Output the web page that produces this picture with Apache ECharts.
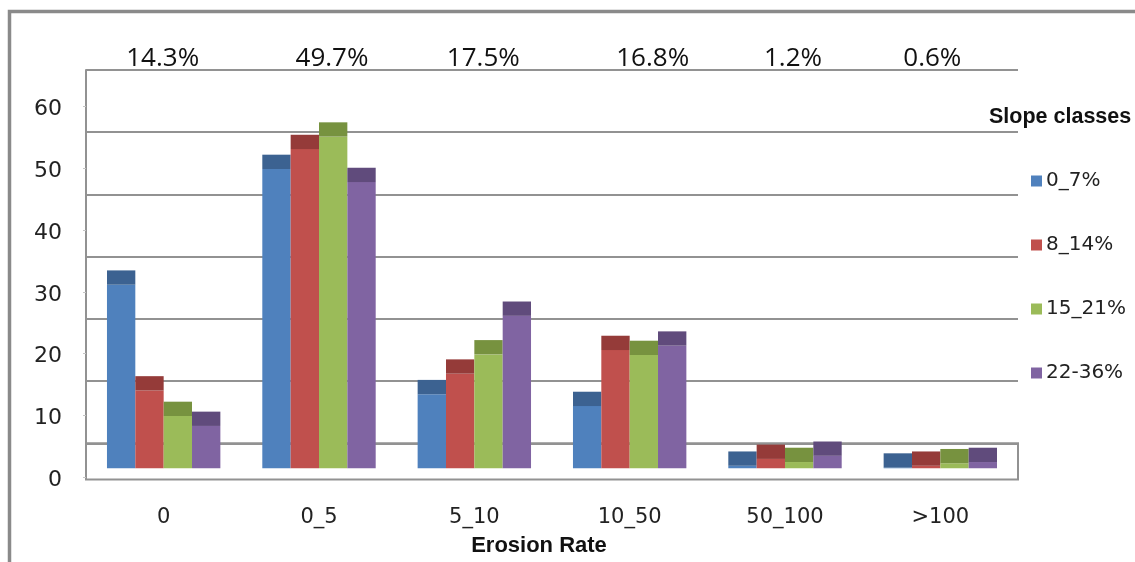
<!DOCTYPE html>
<html>
<head>
<meta charset="utf-8">
<script src="https://cdn.jsdelivr.net/npm/echarts@6/dist/echarts.min.js"></script>
<style>
  html, body { margin: 0; padding: 0; background: #ffffff; }
  #chart { width: 1135px; height: 562px; }
</style>
</head>
<body>
<div id="chart"></div>
<script>
// Erosion rate classes (x axis) and their share of the total area
const categories = ['0', '0_5', '5_10', '10_50', '50_100', '>100'];
const classShare = ['14.3%', '49.7%', '17.5%', '16.8%', '1.2%', '0.6%'];

// Percentage of each slope class falling in every erosion rate class
const slopeNames = ['0_7%', '8_14%', '15_21%', '22-36%'];
const slope0to7   = [29.5, 48.1, 11.9, 10.0, 0.4, 0.1];
const slope8to14  = [12.5, 51.3, 15.2, 19.0, 1.5, 0.4];
const slope15to21 = [8.4, 53.3, 18.3, 18.2, 1.0, 0.8];
const slope22to36 = [6.8, 46.0, 24.5, 19.7, 2.0, 1.0];

// Value axis ticks
const yTicks = { min: 0, max: 60, interval: 10 };

// ---- styling ----
const faceColors = ['#4F81BD', '#C0504D', '#9BBB59', '#8064A2'];
const capColors  = ['#3C6291', '#953B39', '#77923F', '#604B7C'];
const gridGray = '#929292';
// oblique depth: floor is 36.7px deep, columns sit in its middle band
const FLOOR_DEPTH = 36.7;
const BACK_DY = FLOOR_DEPTH * 0.29;
const FRONT_DY = FLOOR_DEPTH * 0.68;
const GROUP_RATIO = 0.73;
// small horizontal nudges of the share labels above the columns
const shareNudge = [-1, 13, 9, 23, 8, -8];

const seriesValues = [slope0to7, slope8to14, slope15to21, slope22to36];

function columnRenderer(si) {
  return function (params, api) {
    const cat = api.value(0);
    const v = api.value(1);
    const top = api.coord([cat, v]);
    const base = api.coord([cat, 0]);
    const band = api.size([1, 0])[0];
    const groupW = band * GROUP_RATIO;
    const bw = groupW / seriesValues.length;
    const x = top[0] - groupW / 2 + si * bw;
    const faceTop = top[1] + FRONT_DY;
    const faceBottom = base[1] + FRONT_DY;
    const capTop = top[1] + BACK_DY;
    return {
      type: 'group',
      children: [
        { type: 'rect', shape: { x: x, y: faceTop, width: bw, height: faceBottom - faceTop },
          style: { fill: faceColors[si] } },
        { type: 'rect', shape: { x: x, y: capTop, width: bw, height: FRONT_DY - BACK_DY },
          style: { fill: capColors[si] } }
      ]
    };
  };
}

const shareRich = {};
shareNudge.forEach(function (dx, i) {
  shareRich['p' + i] = {
    fontFamily: 'Open Sans', fontSize: 26, color: '#111',
    padding: dx >= 0 ? [0, 0, 0, 2 * dx] : [0, -2 * dx, 0, 0]
  };
});

const chart = echarts.init(document.getElementById('chart'), null, { renderer: 'canvas' });

const option = {
  backgroundColor: '#ffffff',
  animation: false,
  title: {
    text: 'Slope classes',
    left: 984, top: 101,
    textStyle: { fontFamily: 'Liberation Sans', fontWeight: 'bold', fontSize: 21.5, color: '#111' }
  },
  legend: {
    orient: 'vertical',
    left: 1026, top: 166,
    itemWidth: 11, itemHeight: 11, itemGap: 44,
    icon: 'rect',
    data: slopeNames,
    textStyle: { fontFamily: 'DejaVu Sans', fontSize: 20, color: '#222', lineHeight: 20, padding: [0, 0, 0, -1] }
  },
  grid: [
    // back wall
    { left: 86, right: 117, top: 70, bottom: 118.7 },
    // front plane (carries the value labels and category labels)
    { left: 86, right: 117, top: 106.7, bottom: 82 },
    // floor
    { left: 86, right: 117, top: 443.3, bottom: 82.5, show: true,
      borderColor: gridGray, borderWidth: 2, backgroundColor: 'transparent' }
  ],
  xAxis: [
    { type: 'category', gridIndex: 0, data: categories, position: 'bottom',
      axisLine: { show: false }, axisTick: { show: false }, axisLabel: { show: false } },
    { type: 'category', gridIndex: 0, data: classShare, position: 'top',
      axisLine: { show: false }, axisTick: { show: false },
      axisLabel: { margin: -2, formatter: function (val, i) { return '{p' + i + '|' + val + '}'; }, rich: shareRich } },
    { type: 'category', gridIndex: 1, data: categories, position: 'bottom',
      axisLine: { show: false }, axisTick: { show: false },
      axisLabel: { margin: 30, fontFamily: 'DejaVu Sans', fontSize: 21, color: '#222' },
      name: 'Erosion Rate', nameLocation: 'middle', nameGap: 58,
      nameTextStyle: { fontFamily: 'Liberation Sans', fontWeight: 'bold', fontSize: 22, color: '#111',
                       padding: [0, 26, 0, 0] } },
    { type: 'category', gridIndex: 2, data: categories, show: false }
  ],
  yAxis: [
    { type: 'value', gridIndex: 0, min: yTicks.min, max: yTicks.max, interval: yTicks.interval,
      axisLine: { show: true, lineStyle: { color: gridGray, width: 2 } },
      axisTick: { show: false }, axisLabel: { show: false },
      splitLine: { show: true, lineStyle: { color: gridGray, width: 2 } } },
    { type: 'value', gridIndex: 1, min: yTicks.min, max: yTicks.max, interval: yTicks.interval,
      axisLine: { show: true, lineStyle: { color: gridGray, width: 2 } },
      axisTick: { show: true, length: 3, lineStyle: { color: '#c4c4c4', width: 1 } },
      axisLabel: { margin: 24, formatter: '{t|{value}}',
                   rich: { t: { fontFamily: 'DejaVu Sans', fontSize: 22, color: '#222', padding: [6, 0, 0, 0] } } },
      splitLine: { show: false } },
    { type: 'value', gridIndex: 2, show: false, splitLine: { show: false } }
  ],
  series: seriesValues.map(function (vals, si) {
    return {
      type: 'custom',
      name: slopeNames[si],
      xAxisIndex: 0, yAxisIndex: 0,
      color: faceColors[si],
      itemStyle: { color: faceColors[si] },
      renderItem: columnRenderer(si),
      encode: { x: 0, y: 1 },
      data: vals.map(function (v, i) { return [i, v]; }),
      z: 3
    };
  }),
  graphic: [
    { type: 'rect', left: 7, top: 9, z: -1, silent: true,
      shape: { width: 1200, height: 620 },
      style: { fill: 'none', stroke: '#8a8a8a', lineWidth: 3.5 } }
  ]
};

chart.setOption(option);
</script>
</body>
</html>
